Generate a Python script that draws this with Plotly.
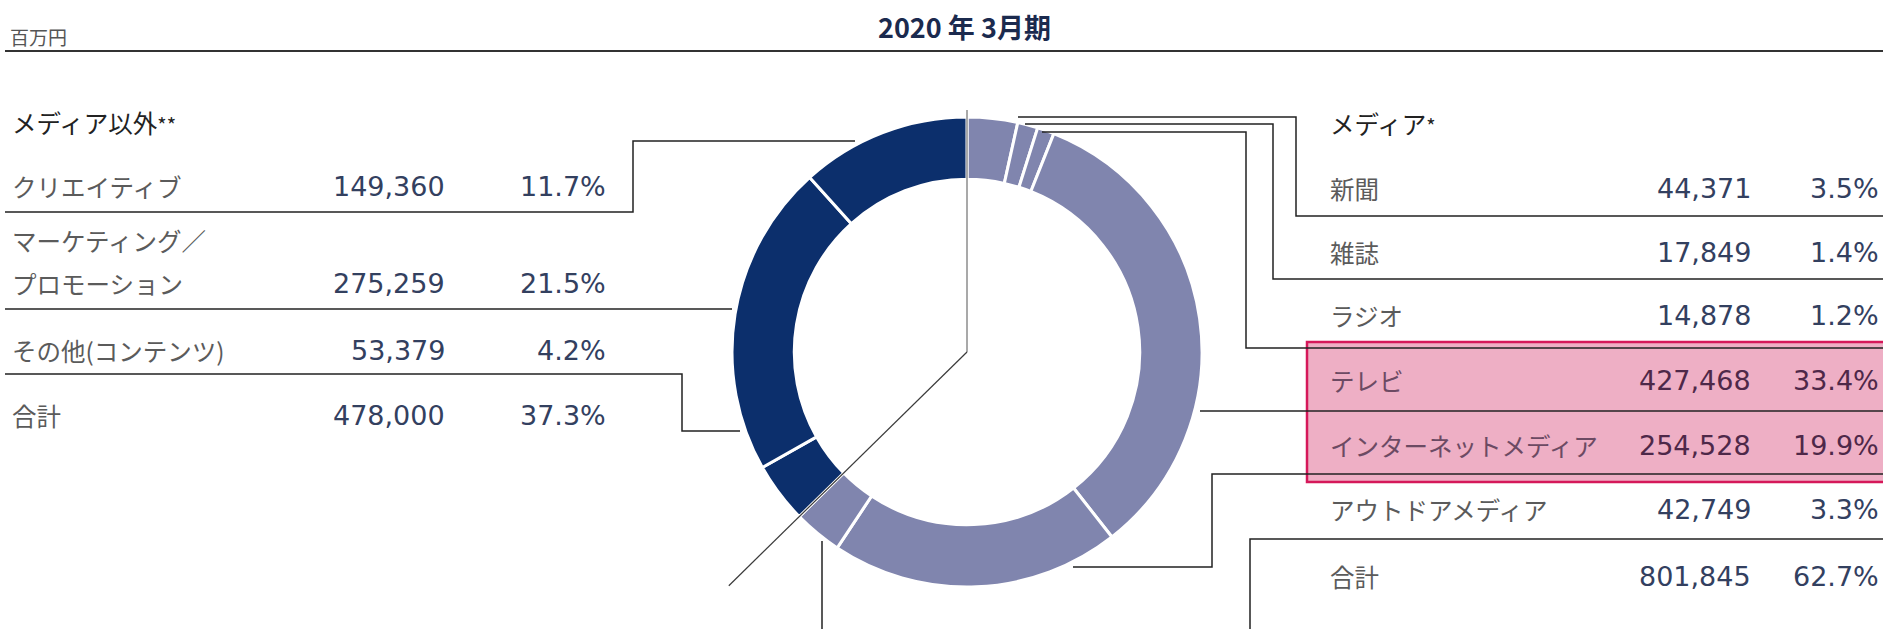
import math
import plotly.graph_objects as go

W, H = 1883, 629

# 売上総利益の内訳（百万円）
media_labels = ["新聞", "雑誌", "ラジオ", "テレビ", "インターネットメディア", "アウトドアメディア"]
media_values = [44371, 17849, 14878, 427468, 254528, 42749]
media_shares = [3.5, 1.4, 1.2, 33.4, 19.9, 3.3]
media_total = 801845
media_total_share = 62.7

other_labels = ["クリエイティブ", "マーケティング／<br>プロモーション", "その他(コンテンツ)"]
other_values = [149360, 275259, 53379]
other_shares = [11.7, 21.5, 4.2]
other_total = 478000
other_total_share = 37.3

title_text = "2020 年 3月期"
unit_text = "百万円"
media_header = "メディア<span style='font-size:20px'>*</span>"
other_header = "メディア以外<span style='font-size:20px'>**</span>"
total_label = "合計"
highlight_rows = ["テレビ", "インターネットメディア"]

# colours
DARK = "#0c2f6c"
LIGHT = "#8085ae"
LABEL_C = "#5b5b5b"
NUM_C = "#33405f"
HEAD_C = "#222222"
PINK_FILL = "#eeafc5"
PINK_EDGE = "#d5185a"
PINK_LABEL = "#6c4a63"
PINK_NUM = "#4e2849"
RULE_C = "#222222"

JP = "Noto Sans CJK JP"
NUMF = "DejaVu Sans"

# ring geometry (px)
cx, cy, r_out = 967, 352, 235
hole = 0.735

fig = go.Figure()

# donut: media slices clockwise from 12 o'clock, then the non-media slices
ring_labels = media_labels + [l.replace("<br>", "") for l in other_labels][::-1]
ring_values = media_values + other_values[::-1]
ring_colors = [LIGHT] * len(media_values) + [DARK] * len(other_values)
fig.add_trace(go.Pie(
    labels=ring_labels, values=ring_values, sort=False,
    direction="clockwise", rotation=0, hole=hole,
    marker=dict(colors=ring_colors, line=dict(color="white", width=3)),
    textinfo="none", hoverinfo="label+value+percent", showlegend=False,
    domain=dict(x=[(cx - r_out) / W, (cx + r_out) / W],
                y=[(H - cy - r_out) / H, (H - cy + r_out) / H]),
))

# anchor trace for the pixel-space cartesian frame
fig.add_trace(go.Scatter(x=[cx], y=[cy], mode="markers",
                         marker=dict(size=1, opacity=0), hoverinfo="skip",
                         showlegend=False))

shapes = []
ann = []


def rule(path, color=RULE_C, width=1.5):
    shapes.append(dict(type="path", path=path, xref="x", yref="y",
                       line=dict(color=color, width=width), layer="above"))


def text(x, y, s, size, color, family=JP, anchor="left", weight="normal"):
    ann.append(dict(x=x, y=y, xref="x", yref="y", text=s, showarrow=False,
                    xanchor=anchor, yanchor="middle",
                    font=dict(family=family, size=size, color=color, weight=weight)))


# header
text(8, 36, unit_text, 19, "#555555")
text(964, 26, title_text, 27, "#1b2a4e", anchor="center", weight="bold")
rule(f"M 5 51 L {W} 51", color="#333333", width=2)

# highlight box behind the TV / internet rows
shapes.append(dict(type="rect", xref="x", yref="y", x0=1307, x1=W + 5, y0=342, y1=482,
                   fillcolor=PINK_FILL, line=dict(color=PINK_EDGE, width=2.5),
                   layer="below"))

# non-media table (left)
LABEL_SIZE = 24.5
NUM_SIZE = 27
text(10, 122, other_header, LABEL_SIZE, HEAD_C)
left_rows_y = [186, 283, 350]
for lab, val, sh, y in zip(other_labels, other_values, other_shares, left_rows_y):
    parts = lab.split("<br>")
    for i, p in enumerate(parts):
        text(10, y - (len(parts) - 1 - i) * 43, p, LABEL_SIZE, LABEL_C)
    text(447, y, f"{val:,}", NUM_SIZE, NUM_C, NUMF, "right")
    text(608, y, f"{sh:.1f}%", NUM_SIZE, NUM_C, NUMF, "right")
text(10, 415, total_label, LABEL_SIZE, LABEL_C)
text(447, 415, f"{other_total:,}", NUM_SIZE, NUM_C, NUMF, "right")
text(608, 415, f"{other_total_share:.1f}%", NUM_SIZE, NUM_C, NUMF, "right")

# media table (right)
text(1328, 123, media_header, LABEL_SIZE, HEAD_C)
right_rows_y = [188, 252, 315, 380, 445, 509]
for lab, val, sh, y in zip(media_labels, media_values, media_shares, right_rows_y):
    hi = lab in highlight_rows
    text(1328, y, lab, LABEL_SIZE, PINK_LABEL if hi else LABEL_C)
    text(1753, y, f"{val:,}", NUM_SIZE, PINK_NUM if hi else NUM_C, NUMF, "right")
    text(1881, y, f"{sh:.1f}%", NUM_SIZE, PINK_NUM if hi else NUM_C, NUMF, "right")
text(1328, 576, total_label, LABEL_SIZE, LABEL_C)
text(1753, 576, f"{media_total:,}", NUM_SIZE, NUM_C, NUMF, "right")
text(1881, 576, f"{media_total_share:.1f}%", NUM_SIZE, NUM_C, NUMF, "right")

# row rules and leader lines, left side
rule("M 5 212 L 633 212 L 633 141 L 855 141")
rule("M 5 309 L 732 309")
rule("M 5 374 L 682 374 L 682 431 L 740 431")

# row rules and leader lines, right side
rule(f"M 1018 117 L 1296 117 L 1296 216 L {W} 216")
rule(f"M 1025 124 L 1273 124 L 1273 279 L {W} 279")
rule(f"M 1042 132 L 1246 132 L 1246 348 L {W} 348")
rule(f"M 1200 411 L {W} 411")
rule(f"M 1073 567 L 1212 567 L 1212 474 L {W} 474")
rule(f"M 1250 {H} L 1250 539 L {W} 539")
rule(f"M 822 541 L 822 {H}")

# start-of-ring marker and the media / non-media split
share = sum(media_values) / (sum(media_values) + sum(other_values))
theta = 2 * math.pi * share
L = 1.42 * r_out
rule(f"M {cx} {cy} L {cx} {cy - 1.03 * r_out:.1f}", color="#a9a9a9", width=2)
rule(f"M {cx} {cy} L {cx + L * math.sin(theta):.1f} {cy - L * math.cos(theta):.1f}",
     color="#3a3a3a", width=1.2)

fig.update_layout(
    width=W, height=H, margin=dict(l=0, r=0, t=0, b=0),
    paper_bgcolor="white", plot_bgcolor="rgba(0,0,0,0)",
    xaxis=dict(range=[0, W], visible=False, fixedrange=True, domain=[0, 1]),
    yaxis=dict(range=[H, 0], visible=False, fixedrange=True, domain=[0, 1]),
    shapes=shapes, annotations=ann, showlegend=False,
)

fig.write_html("out.html")
